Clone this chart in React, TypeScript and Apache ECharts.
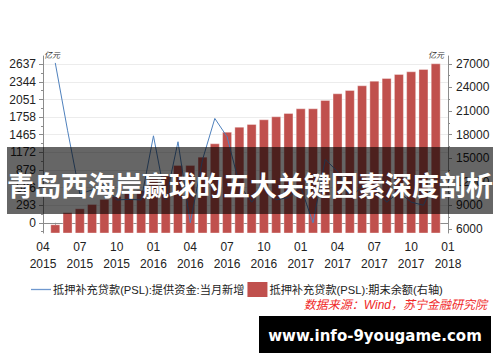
import React, { useEffect, useRef } from 'react';
import * as echarts from 'echarts';

const months = [
  '2015-04', '2015-05', '2015-06', '2015-07', '2015-08', '2015-09', '2015-10', '2015-11', '2015-12',
  '2016-01', '2016-02', '2016-03', '2016-04', '2016-05', '2016-06', '2016-07', '2016-08', '2016-09',
  '2016-10', '2016-11', '2016-12', '2017-01', '2017-02', '2017-03', '2017-04', '2017-05', '2017-06',
  '2017-07', '2017-08', '2017-09', '2017-10', '2017-11', '2017-12', '2018-01',
];

// 抵押补充贷款(PSL):提供资金:当月新增 (亿元, left axis)
const newLoans = [
  null, 2660, 1540, 480, 546, 636, 380, 390, 380,
  1447, 381, 1348, 0, 1050, 1736, 1431, 636, 343,
  597, 382, 419, 598, 0, 1055, 851, 420, 597,
  585, 343, 509, 343, 292, 725, null,
];

// 抵押补充贷款(PSL):期末余额 (亿元, right axis)
const balance = [
  null, 6606, 8144, 8640, 9186, 9822, 10200, 10590, 10971,
  12418, 12800, 14147, 14147, 15199, 16902, 18377, 19013, 19356,
  19953, 20335, 20754, 21352, 21352, 22407, 23258, 23678, 24275,
  24860, 25203, 25712, 26055, 26347, 27072, null,
];

const leftTicks = [0, 293, 586, 879, 1172, 1465, 1758, 2051, 2344, 2637];
const rightTicks = [6000, 9000, 12000, 15000, 18000, 21000, 24000, 27000];

const lineName = '抵押补充贷款(PSL):提供资金:当月新增';
const barName = '抵押补充贷款(PSL):期末余额(右轴)';
const titleText = '青岛西海岸赢球的五大关键因素深度剖析';
const sourceText = '数据来源：Wind，苏宁金融研究院';
const siteText = 'www.info-9yougame.com';

const FONT = '"Liberation Sans", "Noto Sans CJK SC", sans-serif';
const AXIS_COLOR = '#8c8c8c';

const leftMinor = [-146.5, ...leftTicks.slice(0, -1).map((v, i) => (v + leftTicks[i + 1]) / 2)];
const rightMinor = rightTicks.slice(0, -1).map((v, i) => (v + rightTicks[i + 1]) / 2);

const LEFT_MIN = -170;
const LEFT_MAX = 2775;
const RIGHT_MIN = 5500;
const RIGHT_MAX = 28000;

const plain = (v: number) => String(Math.round(v));

export default function App() {
  const ref = useRef<HTMLDivElement>(null);

  useEffect(() => {
    if (!ref.current) return;
    const chart = echarts.init(ref.current, undefined, { renderer: 'svg' });
    const option: any = {
      animation: false,
      textStyle: { fontFamily: FONT },
      grid: { left: 43, right: 52, top: 56, bottom: 129, containLabel: false },
      legend: {
        left: 26,
        top: 277,
        itemWidth: 20,
        itemHeight: 15,
        itemGap: 3,
        textStyle: { fontSize: 11.2, color: '#222', fontFamily: FONT, padding: [0, 0, 0, -3] },
        data: [
          { name: lineName, icon: 'path://M0,0H20V1.3H0Z', itemStyle: { color: '#6f98cf' } },
          { name: barName, icon: 'rect', itemStyle: { borderWidth: 0, color: '#C0504D' } },
        ],
      },
      xAxis: {
        type: 'category',
        data: months,
        boundaryGap: false,
        axisLine: { show: true, lineStyle: { color: AXIS_COLOR, width: 1 } },
        axisTick: { show: true, interval: 0, length: 4, lineStyle: { color: AXIS_COLOR } },
        axisLabel: {
          interval: 2,
          margin: 5,
          fontSize: 12,
          lineHeight: 17,
          color: '#222',
          fontFamily: FONT,
          formatter: (v: string) => {
            const [y, m] = v.split('-');
            return m + '\n' + y;
          },
        },
        splitLine: { show: false },
      },
      yAxis: [
        {
          type: 'value',
          position: 'left',
          min: LEFT_MIN,
          max: LEFT_MAX,
          axisLine: { show: true, lineStyle: { color: AXIS_COLOR } },
          axisTick: { show: true, length: 4, customValues: leftTicks, lineStyle: { color: AXIS_COLOR } },
          axisLabel: { customValues: leftTicks, formatter: plain, margin: 7, fontSize: 12, color: '#222', fontFamily: FONT },
          splitLine: { show: true, lineStyle: { color: '#ececec', width: 1 } },
        },
        {
          type: 'value',
          position: 'right',
          min: RIGHT_MIN,
          max: RIGHT_MAX,
          axisLine: { show: true, lineStyle: { color: AXIS_COLOR } },
          axisTick: { show: true, length: 4, customValues: rightTicks, lineStyle: { color: AXIS_COLOR } },
          axisLabel: { customValues: rightTicks, formatter: plain, margin: 8, fontSize: 12, color: '#222', fontFamily: FONT },
          splitLine: { show: false },
        },
        {
          type: 'value',
          position: 'left',
          min: LEFT_MIN,
          max: LEFT_MAX,
          axisLine: { show: false },
          axisTick: { show: true, length: 2, customValues: leftMinor, lineStyle: { color: AXIS_COLOR } },
          axisLabel: { show: false },
          splitLine: { show: false },
        },
        {
          type: 'value',
          position: 'right',
          min: RIGHT_MIN,
          max: RIGHT_MAX,
          axisLine: { show: false },
          axisTick: { show: true, length: 2, customValues: rightMinor, lineStyle: { color: AXIS_COLOR } },
          axisLabel: { show: false },
          splitLine: { show: false },
        },
      ],
      series: [
        {
          type: 'bar',
          name: barName,
          yAxisIndex: 1,
          data: balance,
          barWidth: 10,
          itemStyle: { color: '#C0504D', borderColor: 'rgba(255,255,255,0.35)', borderWidth: 1 },
        },
        {
          type: 'line',
          name: lineName,
          yAxisIndex: 0,
          data: newLoans,
          symbol: 'none',
          connectNulls: false,
          lineStyle: { color: '#4F81BD', width: 1 },
          itemStyle: { color: '#4F81BD' },
        },
      ],
      graphic: [
        {
          type: 'text',
          x: 44,
          y: 55,
          z: 50,
          style: { text: '亿元', fontSize: 8, fontStyle: 'italic', fill: '#333', fontFamily: FONT, textAlign: 'left', textVerticalAlign: 'middle' },
        },
        {
          type: 'text',
          x: 444,
          y: 55,
          z: 50,
          style: { text: '亿元', fontSize: 8, fontStyle: 'italic', fill: '#333', fontFamily: FONT, textAlign: 'right', textVerticalAlign: 'middle' },
        },
        {
          type: 'rect',
          z: 100,
          shape: { x: 7, y: 147, width: 486, height: 67 },
          style: { fill: 'rgba(0,0,0,0.6)' },
        },
        {
          type: 'text',
          x: 250,
          y: 184,
          z: 101,
          style: {
            text: titleText,
            fill: '#ffffff',
            fontSize: 27,
            fontWeight: 'bold',
            fontFamily: '"Noto Sans CJK SC", sans-serif',
            textAlign: 'center',
            textVerticalAlign: 'middle',
          },
        },
        {
          type: 'text',
          x: 487,
          y: 305,
          z: 100,
          style: {
            text: sourceText,
            fill: '#f02828',
            fontSize: 12,
            fontStyle: 'italic',
            fontFamily: FONT,
            textAlign: 'right',
            textVerticalAlign: 'middle',
          },
        },
        {
          type: 'rect',
          z: 100,
          shape: { x: 259, y: 316, width: 232, height: 37 },
          style: { fill: '#000000' },
        },
        {
          type: 'text',
          x: 375,
          y: 336,
          z: 101,
          style: {
            text: siteText,
            fill: '#ffffff',
            fontSize: 15,
            fontWeight: 'bold',
            fontFamily: '"DejaVu Sans", sans-serif',
            textAlign: 'center',
            textVerticalAlign: 'middle',
          },
        },
      ],
    };
    chart.setOption(option);
    return () => {
      chart.dispose();
    };
  }, []);

  return (
    <div
      ref={ref}
      style={{ position: 'fixed', left: 0, top: 0, width: 500, height: 362, background: '#ffffff' }}
    />
  );
}
